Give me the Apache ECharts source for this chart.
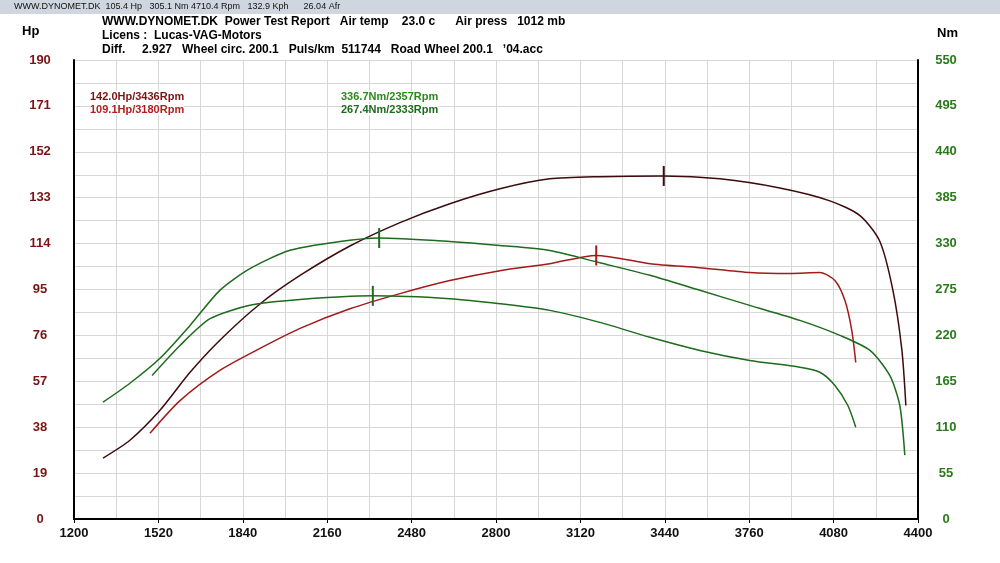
<!DOCTYPE html>
<html>
<head>
<meta charset="utf-8">
<script src="https://cdn.jsdelivr.net/npm/echarts@6/dist/echarts.min.js"></script>
<style>html,body{margin:0;padding:0;background:#fff}#chart{width:1000px;height:563px}</style>
</head>
<body>
<div id="chart"></div>
<script>
// power curves (rpm, Hp)
var powerA = [[1310,25.2],[1412,32.6],[1526,45],[1640,60.7],[1753,74],[1905,89],[2057,100.8],[2246,113],[2436,122.7],[2625,130.5],[2815,136.7],[3004,140.8],[3194,141.7],[3436,142],[3649,140.8],[3876,137],[4066,131.7],[4180,125.6],[4255,115],[4305,94.6],[4339,69.8],[4354,47]];
var powerB = [[1488,35.5],[1602,49],[1753,61.5],[1905,70.6],[2057,78.9],[2246,87],[2436,93.3],[2625,98.7],[2815,102.8],[3004,105.7],[3180,109.1],[3384,105.7],[3573,104],[3762,102],[3914,101.6],[4028,102],[4085,98.7],[4123,90.4],[4149,78],[4164,64.8]];
// torque curves (rpm, Nm)
var torqueC = [[1310,140],[1412,162.7],[1526,192.6],[1640,232],[1753,274],[1867,300],[2019,322],[2208,332.5],[2357,336.7],[2625,332.5],[2815,327.7],[3004,321.7],[3194,307],[3384,292],[3573,274],[3762,256],[3952,238],[4104,220],[4218,202],[4293,172],[4331,136],[4350,76.5]];
var torqueD = [[1496,172],[1602,208],[1716,240],[1867,256],[2057,263],[2333,267.4],[2625,264],[2815,258],[3004,250],[3194,235.6],[3384,217.7],[3573,202],[3762,190],[3952,181.8],[4028,175.8],[4085,160],[4134,136],[4164,110]];
var peaks = [[3436,142],[3180,109.1],[2357,336.7],[2333,267.4]];

var chart = echarts.init(document.getElementById('chart'));
var fnt = 'Liberation Sans';
function serie(name, data, color, yIdx, pk) {
  return {
    name: name, type: 'line', data: data, yAxisIndex: yIdx, smooth: 0.25,
    symbol: 'none', lineStyle: {color: color, width: 1.5},
    markPoint: {symbol: 'rect', symbolSize: [2, 20], silent: true, label: {show: false},
      itemStyle: {color: color}, data: [{coord: pk}]}
  };
}
function lab(x, y, t, c) {
  return {type: 'text', left: x, top: y, z: 100, style: {text: t, fill: c, font: 'bold 11px ' + fnt, backgroundColor: '#fff'}};
}
var option = {
  animation: false,
  grid: {left: 74, right: 82, top: 60, bottom: 44},
  xAxis: {
    type: 'value', min: 1200, max: 4400, interval: 320,
    axisLine: {lineStyle: {color: '#000', width: 2}},
    axisTick: {show: true, length: 4, lineStyle: {color: '#000'}},
    axisLabel: {color: '#111', fontWeight: 'bold', fontSize: 13, fontFamily: fnt, margin: 8, formatter: function (v) { return String(v); }},
    splitLine: {lineStyle: {color: '#d6d6d6'}},
    minorTick: {show: false, splitNumber: 2},
    minorSplitLine: {show: true, lineStyle: {color: '#d6d6d6'}}
  },
  yAxis: [{
    type: 'value', min: 0, max: 190, interval: 19, position: 'left',
    axisLine: {show: true, lineStyle: {color: '#000', width: 2}},
    axisTick: {show: false},
    axisLabel: {color: '#7a1414', fontWeight: 'bold', fontSize: 13, fontFamily: fnt, margin: 34, align: 'center'},
    splitLine: {lineStyle: {color: '#d6d6d6'}},
    minorTick: {show: false, splitNumber: 2},
    minorSplitLine: {show: true, lineStyle: {color: '#d6d6d6'}}
  }, {
    type: 'value', min: 0, max: 550, interval: 55, position: 'right',
    axisLine: {show: true, lineStyle: {color: '#000', width: 2}},
    axisTick: {show: false},
    axisLabel: {color: '#2a7a1a', fontWeight: 'bold', fontSize: 13, fontFamily: fnt, margin: 28, align: 'center'},
    splitLine: {show: false}
  }],
  series: [
    serie('A', powerA, '#3d0b0b', 0, peaks[0]),
    serie('B', powerB, '#a31a1a', 0, peaks[1]),
    serie('C', torqueC, '#1d6b1d', 1, peaks[2]),
    serie('D', torqueD, '#1d6b1d', 1, peaks[3])
  ],
  graphic: [
    {type: 'rect', shape: {x: 0, y: 0, width: 1000, height: 14}, style: {fill: '#cfd6df'}},
    {type: 'text', left: 14, top: 2, style: {text: 'WWW.DYNOMET.DK  105.4 Hp   305.1 Nm 4710.4 Rpm   132.9 Kph      26.04 Afr', fill: '#111', font: '9px ' + fnt}},
    {type: 'text', left: 102, top: 16, style: {text: 'WWW.DYNOMET.DK  Power Test Report   Air temp    23.0 c      Air press   1012 mb', fill: '#000', font: 'bold 12px ' + fnt}},
    {type: 'text', left: 102, top: 30, style: {text: 'Licens :  Lucas-VAG-Motors', fill: '#000', font: 'bold 12px ' + fnt}},
    {type: 'text', left: 102, top: 44, style: {text: 'Diff.     2.927   Wheel circ. 200.1   Puls/km  511744   Road Wheel 200.1   \u02bc04.acc', fill: '#000', font: 'bold 12px ' + fnt}},
    {type: 'text', left: 22, top: 25, style: {text: 'Hp', fill: '#000', font: 'bold 13px ' + fnt}},
    {type: 'text', left: 937, top: 27, style: {text: 'Nm', fill: '#000', font: 'bold 13px ' + fnt}},
    lab(90, 91, '142.0Hp/3436Rpm', '#7a1414'),
    lab(90, 104, '109.1Hp/3180Rpm', '#b01e1e'),
    lab(341, 91, '336.7Nm/2357Rpm', '#2a8a1a'),
    lab(341, 104, '267.4Nm/2333Rpm', '#1d6b1d')
  ]
};
chart.setOption(option);
</script>
</body>
</html>
